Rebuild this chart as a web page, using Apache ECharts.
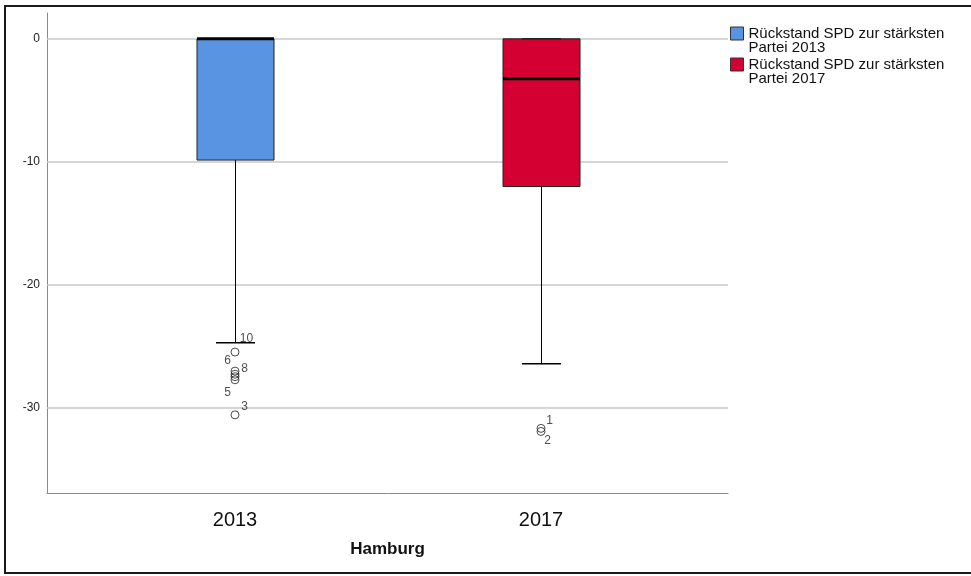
<!DOCTYPE html>
<html>
<head>
<meta charset="utf-8">
<script src="https://cdn.jsdelivr.net/npm/echarts@6/dist/echarts.min.js"></script>
<style>html,body{margin:0;padding:0;background:#fff;}#c{width:971px;height:576px;}</style>
</head>
<body>
<div id="c"></div>
<script>
const categories = ['2013', '2017'];
const seriesNames = ['Rückstand SPD zur stärksten\nPartei 2013', 'Rückstand SPD zur stärksten\nPartei 2017'];
const seriesColors = ['#5894E1', '#D50032'];
const whiskerLow = [-24.7, -26.4];
const quartile1 = [-9.85, -12.0];
const medians = [0, -3.25];
const quartile3 = [0, 0];
const whiskerHigh = [0, 0];
const outlierValues2013 = [-25.45, -27.0, -27.25, -27.45, -27.7, -30.55];
const outlierLabels2013 = ['10', '6', '8', '', '5', '3'];
const outlierValues2017 = [-31.65, -31.9];
const outlierLabels2017 = ['1', '2'];
const yTicks = [0, -10, -20, -30];

const labelOffsets2013 = [[12, -13], [-7, -10], [10, -5], [0, 0], [-7, 13], [10, -8]];
const labelOffsets2017 = [[9, -7], [7, 10]];

const YMIN = -36.9, YMAX = 2.1;
const FONT = 'Liberation Sans, Arial, sans-serif';

function boxRender(params, api) {
  const x = api.value(0);
  const lo = api.coord([x, api.value(1)]);
  const q1 = api.coord([x, api.value(2)]);
  const med = api.coord([x, api.value(3)]);
  const q3 = api.coord([x, api.value(4)]);
  const hi = api.coord([x, api.value(5)]);
  const bw = 77, cw = 39;
  const cx = Math.round(lo[0]) + 0.5;
  const children = [];
  children.push({type: 'line', z2: 1, shape: {x1: cx, y1: q1[1], x2: cx, y2: lo[1]}, style: {stroke: '#000', lineWidth: 1}});
  children.push({type: 'line', z2: 1, shape: {x1: cx - cw / 2, y1: lo[1], x2: cx + cw / 2, y2: lo[1]}, style: {stroke: '#000', lineWidth: 1.5}});
  children.push({type: 'line', z2: 1, shape: {x1: cx, y1: q3[1], x2: cx, y2: hi[1]}, style: {stroke: '#000', lineWidth: 1}});
  children.push({type: 'rect', z2: 2, shape: {x: cx - bw / 2, y: q3[1], width: bw, height: q1[1] - q3[1]},
    style: {fill: api.visual('color'), stroke: '#222', lineWidth: 1}});
  children.push({type: 'line', z2: 3, shape: {x1: cx - cw / 2, y1: hi[1], x2: cx + cw / 2, y2: hi[1]}, style: {stroke: '#222', lineWidth: 1.5}});
  children.push({type: 'line', z2: 10, shape: {x1: cx - bw / 2, y1: med[1], x2: cx + bw / 2, y2: med[1]}, style: {stroke: '#000', lineWidth: 3}});
  return {type: 'group', children: children};
}

function boxData(i) {
  return [[i, whiskerLow[i], quartile1[i], medians[i], quartile3[i], whiskerHigh[i]]];
}

function outlierData(catIndex, values, labels, offsets) {
  return values.map(function (v, k) {
    return {
      value: [catIndex, v],
      label: {show: labels[k] !== '', formatter: labels[k], position: [4 + offsets[k][0], 4 + offsets[k][1]],
        align: 'center', verticalAlign: 'middle', fontSize: 12, fontFamily: FONT, color: '#222'}
    };
  });
}

const chart = echarts.init(document.getElementById('c'), null, {renderer: 'canvas'});
chart.setOption({
  animation: false,
  backgroundColor: '#fff',
  graphic: [{type: 'rect', shape: {x: 5, y: 6, width: 980, height: 567}, style: {fill: 'none', stroke: '#1a1a1a', lineWidth: 2}, z: 100}],
  legend: {
    data: seriesNames,
    orient: 'vertical',
    left: 730, top: 12,
    padding: 0,
    icon: 'rect',
    itemWidth: 13, itemHeight: 13,
    itemGap: -12,
    itemStyle: {borderColor: '#333', borderWidth: 1},
    formatter: function (name) { return '\n' + name; },
    textStyle: {fontFamily: FONT, fontSize: 15, lineHeight: 14, color: '#111'},
    selectedMode: false
  },
  grid: [
    {left: 47, right: 243, top: 13, bottom: 83},
    {left: 82, right: 277, top: 13, bottom: 83}
  ],
  xAxis: [
    {gridIndex: 0, type: 'value', min: 0, max: 1, axisLine: {show: true, onZero: false, lineStyle: {color: '#888', width: 1}},
      axisTick: {show: false}, axisLabel: {show: false}, splitLine: {show: false},
      name: 'Hamburg', nameLocation: 'middle', nameGap: 48,
      nameTextStyle: {fontFamily: FONT, fontSize: 17, fontWeight: 'bold', color: '#111'}},
    {gridIndex: 1, type: 'category', data: categories, boundaryGap: true,
      axisLine: {show: false}, axisTick: {show: false},
      axisLabel: {fontFamily: FONT, fontSize: 20, color: '#111', margin: 17}}
  ],
  yAxis: [
    {gridIndex: 0, type: 'value', min: YMIN, max: YMAX,
      axisLine: {show: true, onZero: false, lineStyle: {color: '#888', width: 1}},
      axisTick: {show: false},
      axisLabel: {fontFamily: FONT, fontSize: 12, color: '#222', margin: 7,
        customValues: yTicks},
      splitLine: {show: false}},
    {gridIndex: 1, type: 'value', min: YMIN, max: YMAX, show: false,
      splitLine: {show: false}}
  ],
  series: [
    {type: 'line', xAxisIndex: 0, yAxisIndex: 0, silent: true, data: [],
      markLine: {silent: true, symbol: 'none', label: {show: false},
        lineStyle: {color: '#c8c8c8', width: 1.5, type: 'solid'},
        data: yTicks.map(function (t) { return {yAxis: t}; })}},
    {name: seriesNames[0], type: 'custom', xAxisIndex: 1, yAxisIndex: 1, renderItem: boxRender,
      itemStyle: {color: seriesColors[0]}, encode: {x: 0, y: [1, 2, 3, 4, 5]}, data: boxData(0), z: 5},
    {name: seriesNames[1], type: 'custom', xAxisIndex: 1, yAxisIndex: 1, renderItem: boxRender,
      itemStyle: {color: seriesColors[1]}, encode: {x: 0, y: [1, 2, 3, 4, 5]}, data: boxData(1), z: 5},
    {type: 'scatter', xAxisIndex: 1, yAxisIndex: 1, symbol: 'circle', symbolSize: 8, z: 6,
      itemStyle: {color: 'rgba(255,255,255,0)', borderColor: '#222', borderWidth: 1},
      data: outlierData(0, outlierValues2013, outlierLabels2013, labelOffsets2013)
        .concat(outlierData(1, outlierValues2017, outlierLabels2017, labelOffsets2017))}
  ]
});
</script>
</body>
</html>
